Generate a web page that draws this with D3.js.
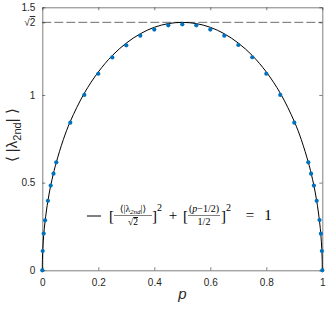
<!DOCTYPE html>
<html>
<head>
<meta charset="utf-8">
<script src="https://cdn.jsdelivr.net/npm/d3@7"></script>
<style>
body { margin: 0; background: #fff; }
text { font-family: "Liberation Sans", Arial, sans-serif; }
.tex { font-family: "Liberation Serif", "DejaVu Serif", serif; fill: #000; }
</style>
</head>
<body>
<script>

let width = 333, height = 312;

// simulated points
const pVals = [0, 0.0015, 0.005, 0.01, 0.02, 0.03, 0.04, 0.05, 0.1, 0.15, 0.2, 0.25, 0.3, 0.35, 0.4, 0.45, 0.5,
               0.55, 0.6, 0.65, 0.7, 0.75, 0.8, 0.85, 0.9, 0.95, 0.96, 0.97, 0.98, 0.99, 0.995, 0.9985, 1];
const lamVals = [0, 0.11, 0.21, 0.285, 0.396, 0.483, 0.551, 0.616, 0.842, 1.0, 1.121, 1.214, 1.283, 1.338, 1.373, 1.397, 1.403,
                 1.397, 1.373, 1.338, 1.285, 1.215, 1.121, 1.0, 0.842, 0.616, 0.551, 0.483, 0.396, 0.287, 0.209, 0.11, 0];

// ellipse curve
const curveP = [0, 0.0005, 0.002, 0.005, 0.01, 0.02, 0.03, 0.04, 0.05, 0.075, 0.1, 0.15, 0.2, 0.25, 0.3, 0.35, 0.4, 0.45, 0.5,
                0.55, 0.6, 0.65, 0.7, 0.75, 0.8, 0.85, 0.9, 0.925, 0.95, 0.96, 0.97, 0.98, 0.99, 0.995, 0.998, 0.9995, 1];
const curveLam = [0, 0.063, 0.126, 0.2, 0.281, 0.396, 0.483, 0.554, 0.616, 0.745, 0.849, 1.01, 1.131, 1.225, 1.296, 1.349, 1.386, 1.407, 1.414,
                  1.407, 1.386, 1.349, 1.296, 1.225, 1.131, 1.01, 0.849, 0.745, 0.616, 0.554, 0.483, 0.396, 0.281, 0.2, 0.126, 0.063, 0];

const xTicks = [0, 0.2, 0.4, 0.6, 0.8, 1];
const xTickLabels = ["0", "0.2", "0.4", "0.6", "0.8", "1"];
const yTicks = [0, 0.5, 1, Math.SQRT2, 1.5];
const yTickLabels = ["0", "0.5", "1", "\u221A2", "1.5"];
const refLevel = Math.SQRT2;

let mLeft = 42.3, mRight = 322.3, mTop = 7.3, mBottom = 270.3;

let x = d3.scaleLinear().domain([0, 1]).range([mLeft, mRight]);
let y = d3.scaleLinear().domain([0, 1.5]).range([mBottom, mTop]);

const svg = d3.select("body")
            .append("svg")
            .attr("width", width)
            .attr("height", height);

const axisColor = "#262626";

// dashed sqrt(2) level
svg.append("line")
    .attr("x1", x(0)).attr("x2", x(1))
    .attr("y1", y(refLevel)).attr("y2", y(refLevel))
    .attr("stroke", "#6e6e6e")
    .attr("stroke-width", 1)
    .attr("stroke-dasharray", "9,3");

let xAxis = d3.axisBottom(x).tickValues(xTicks).tickFormat((d, i) => xTickLabels[i])
              .tickSizeInner(-3).tickSizeOuter(0).tickPadding(9);
let xTop = d3.axisTop(x).tickValues(xTicks).tickFormat("").tickSizeInner(-3).tickSizeOuter(0);
let yAxis = d3.axisLeft(y).tickValues(yTicks).tickFormat((d, i) => yTickLabels[i])
              .tickSizeInner(-3).tickSizeOuter(0).tickPadding(7);
let yRight = d3.axisRight(y).tickValues(yTicks).tickFormat("").tickSizeInner(-3).tickSizeOuter(0);

svg.append("g").attr("transform", `translate(0,${mBottom})`).call(xAxis);
svg.append("g").attr("transform", `translate(0,${mTop})`).call(xTop);
svg.append("g").attr("class", "yax").attr("transform", `translate(${mLeft},0)`).call(yAxis);
svg.append("g").attr("transform", `translate(${mRight},0)`).call(yRight);

svg.selectAll(".domain, .tick line")
    .attr("stroke", axisColor)
    .attr("stroke-width", 0.6);
svg.selectAll(".tick text")
    .attr("fill", axisColor)
    .style("font-size", "10px")
    .style("font-family", "Liberation Sans, Arial, sans-serif");

// overline on the 2 of sqrt(2)
svg.selectAll(".yax .tick text")
    .filter((d) => d === refLevel)
    .text(null)
    .call((t) => {
        t.append("tspan").text("\u221A");
        t.append("tspan").style("text-decoration", "overline").text("2");
    });

// axis labels
svg.append("text")
    .attr("x", x(0.5))
    .attr("y", 299)
    .attr("text-anchor", "middle")
    .style("font-size", "15px")
    .style("font-style", "italic")
    .attr("fill", axisColor)
    .text("p");

let ylab = svg.append("text")
    .attr("transform", `translate(17,${y(0.77)}) rotate(-90)`)
    .attr("text-anchor", "middle")
    .style("font-size", "15px")
    .attr("fill", axisColor);
ylab.append("tspan").text("\u27E8 |\u03BB");
ylab.append("tspan").attr("dy", 4).style("font-size", "11px").text("2nd");
ylab.append("tspan").attr("dy", -4).text("| \u27E9");

// fitted ellipse
let line = d3.line()
    .x((d, i) => x(curveP[i]))
    .y((d) => y(d))
    .curve(d3.curveCatmullRom.alpha(0.5));

svg.append("path")
    .datum(curveLam)
    .attr("d", line)
    .attr("fill", "none")
    .attr("stroke", "#000")
    .attr("stroke-width", 1);

svg.selectAll(".dot")
    .data(lamVals)
    .enter()
    .append("circle")
    .attr("class", "dot")
    .attr("r", 2.1)
    .attr("cx", (d, i) => x(pVals[i]))
    .attr("cy", (d) => y(d))
    .attr("fill", "#0072BD");

// legend
let lg = svg.append("g").attr("id", "legend");
lg.append("line")
    .attr("x1", 87).attr("x2", 101).attr("y1", 216).attr("y2", 216)
    .attr("stroke", "#000").attr("stroke-width", 1);

function tex(px, py, size, str, anchor) {
    return lg.append("text").attr("class", "tex")
        .attr("x", px).attr("y", py)
        .attr("text-anchor", anchor || "start")
        .style("font-size", size + "px")
        .text(str);
}
function bar(x1, x2) {
    lg.append("line").attr("x1", x1).attr("x2", x2).attr("y1", 215.5).attr("y2", 215.5)
        .attr("stroke", "#000").attr("stroke-width", 0.5);
}

tex(109, 221, 15, "[");
let num1 = lg.append("text").attr("class", "tex").attr("x", 133).attr("y", 212)
    .attr("text-anchor", "middle").style("font-size", "9.5px");
num1.append("tspan").text("\u27E8|\u03BB");
num1.append("tspan").attr("dy", 1.5).style("font-size", "7px").style("font-style", "italic").text("2nd");
num1.append("tspan").attr("dy", -1.5).text("|\u27E9");
bar(114, 152);
let den1 = tex(133, 225, 9.5, "", "middle");
den1.append("tspan").text("\u221A");
den1.append("tspan").style("text-decoration", "overline").text("2");
tex(152, 221, 15, "]");
tex(157, 211, 10, "2");
tex(173, 220, 15, "+", "middle");
tex(183, 221, 15, "[");
let num2 = lg.append("text").attr("class", "tex").attr("x", 204).attr("y", 212)
    .attr("text-anchor", "middle").style("font-size", "10px");
num2.append("tspan").text("(");
num2.append("tspan").style("font-style", "italic").text("p");
num2.append("tspan").text("\u22121/2)");
bar(188, 220);
tex(204, 225, 10, "1/2", "middle");
tex(221, 221, 15, "]");
tex(226, 211, 10, "2");
tex(250, 220, 15, "=", "middle");
tex(268, 220, 15, "1", "middle");

</script>
</body>
</html>
